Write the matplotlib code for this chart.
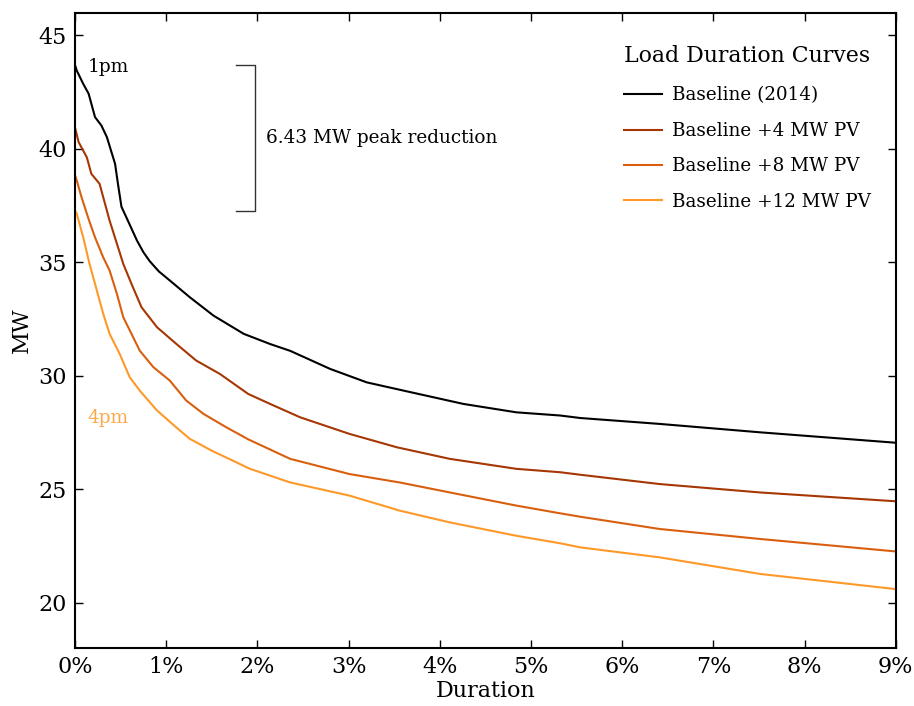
import matplotlib
matplotlib.use("Agg")
import matplotlib.pyplot as plt
from matplotlib.ticker import PercentFormatter

plt.rcParams['font.family'] = ['DejaVu Serif']

# duration (% of hours) and load (MW)
base_x = [0, 0.02, 0.09, 0.15, 0.22, 0.29, 0.35, 0.44, 0.47, 0.51, 0.58, 0.68, 0.75, 0.82,
          0.92, 1.04, 1.26, 1.52, 1.85, 2.14, 2.36, 2.80, 3.20, 3.60, 4.26, 4.84, 5.32, 5.54,
          6.41, 7.51, 9.0]
base_y = [43.70, 43.45, 42.87, 42.43, 41.40, 41.03, 40.52, 39.34, 38.50, 37.45, 36.84, 35.96,
          35.45, 35.05, 34.60, 34.20, 33.46, 32.65, 31.85, 31.40, 31.10, 30.30, 29.71, 29.35,
          28.76, 28.39, 28.25, 28.14, 27.88, 27.51, 27.05]

pv4_x = [0, 0.04, 0.13, 0.18, 0.27, 0.31, 0.38, 0.46, 0.53, 0.62, 0.73, 0.90, 1.11, 1.33,
         1.59, 1.90, 2.14, 2.47, 3.01, 3.53, 4.11, 4.84, 5.32, 5.54, 6.41, 7.51, 9.0]
pv4_y = [40.95, 40.30, 39.63, 38.90, 38.46, 37.87, 36.84, 35.82, 34.93, 34.05, 33.02, 32.14,
         31.41, 30.67, 30.08, 29.20, 28.76, 28.17, 27.44, 26.85, 26.34, 25.90, 25.75, 25.64,
         25.23, 24.86, 24.47]

pv8_x = [0, 0.02, 0.07, 0.15, 0.22, 0.31, 0.38, 0.46, 0.53, 0.62, 0.71, 0.86, 1.04, 1.22,
         1.41, 1.66, 1.90, 2.36, 3.01, 3.56, 4.11, 4.84, 5.32, 5.54, 6.41, 7.51, 9.0]
pv8_y = [38.85, 38.60, 37.90, 36.90, 36.10, 35.22, 34.64, 33.61, 32.58, 31.85, 31.11, 30.38,
         29.79, 28.91, 28.32, 27.73, 27.20, 26.34, 25.67, 25.30, 24.86, 24.28, 23.94, 23.79,
         23.25, 22.81, 22.26]

pv12_x = [0, 0.02, 0.09, 0.16, 0.24, 0.31, 0.38, 0.49, 0.60, 0.71, 0.90, 1.11, 1.26, 1.50,
          1.92, 2.36, 3.01, 3.56, 4.11, 4.84, 5.32, 5.54, 6.41, 7.51, 9.0]
pv12_y = [37.27, 37.14, 36.11, 34.93, 33.76, 32.73, 31.85, 30.97, 29.94, 29.35, 28.47, 27.73,
          27.22, 26.70, 25.90, 25.30, 24.72, 24.06, 23.54, 22.95, 22.62, 22.44, 22.00, 21.27,
          20.60]

labels = ["Baseline (2014)", "Baseline +4 MW PV", "Baseline +8 MW PV", "Baseline +12 MW PV"]
colors = ["#000000", "#a63603", "#d95f0e", "#fe9929"]

fig = plt.figure(figsize=(9.14, 7.06), dpi=100)
ax = fig.add_axes([0.082, 0.082, 0.898, 0.900])

series = [(base_x, base_y), (pv4_x, pv4_y), (pv8_x, pv8_y), (pv12_x, pv12_y)]
for (xs, ys), lab, c in zip(series, labels, colors):
    ax.plot(xs, ys, color=c, lw=1.5, label=lab)

# peak reduction bracket
top = base_y[0]
bot = pv12_y[0]
ax.plot([1.77, 1.97, 1.97, 1.77], [top, top, bot, bot], color="#333333", lw=1.0)
ax.text(2.10, (top + bot) / 2, "%.2f MW peak reduction" % (top - bot),
        fontsize=13.3, va="center", ha="left")

ax.text(0.14, 43.6, "1pm", fontsize=13.3, va="center", ha="left")
ax.text(0.14, 28.15, "4pm", fontsize=13.3, va="center", ha="left", color="#fea848")

ax.set_xlim(0, 9)
ax.set_ylim(18, 46)
ax.set_yticks([20, 25, 30, 35, 40, 45])
ax.set_xticks(range(10))
ax.xaxis.set_major_formatter(PercentFormatter(xmax=100, decimals=0))
ax.tick_params(direction="in", top=True, right=True, length=6, width=1, labelsize=16, pad=6)
for s in ax.spines.values():
    s.set_linewidth(1.5)

ax.set_xlabel("Duration", fontsize=16, labelpad=1)
ax.set_ylabel("MW", fontsize=16, labelpad=4)

leg = ax.legend(title="Load Duration Curves", frameon=False, loc="upper right",
                fontsize=13.2, title_fontsize=15.8, labelspacing=0.95, handlelength=2.1,
                handletextpad=0.55, bbox_to_anchor=(0.99, 0.975))
leg._legend_box.sep = 14

fig.savefig("out.png", dpi=100)
